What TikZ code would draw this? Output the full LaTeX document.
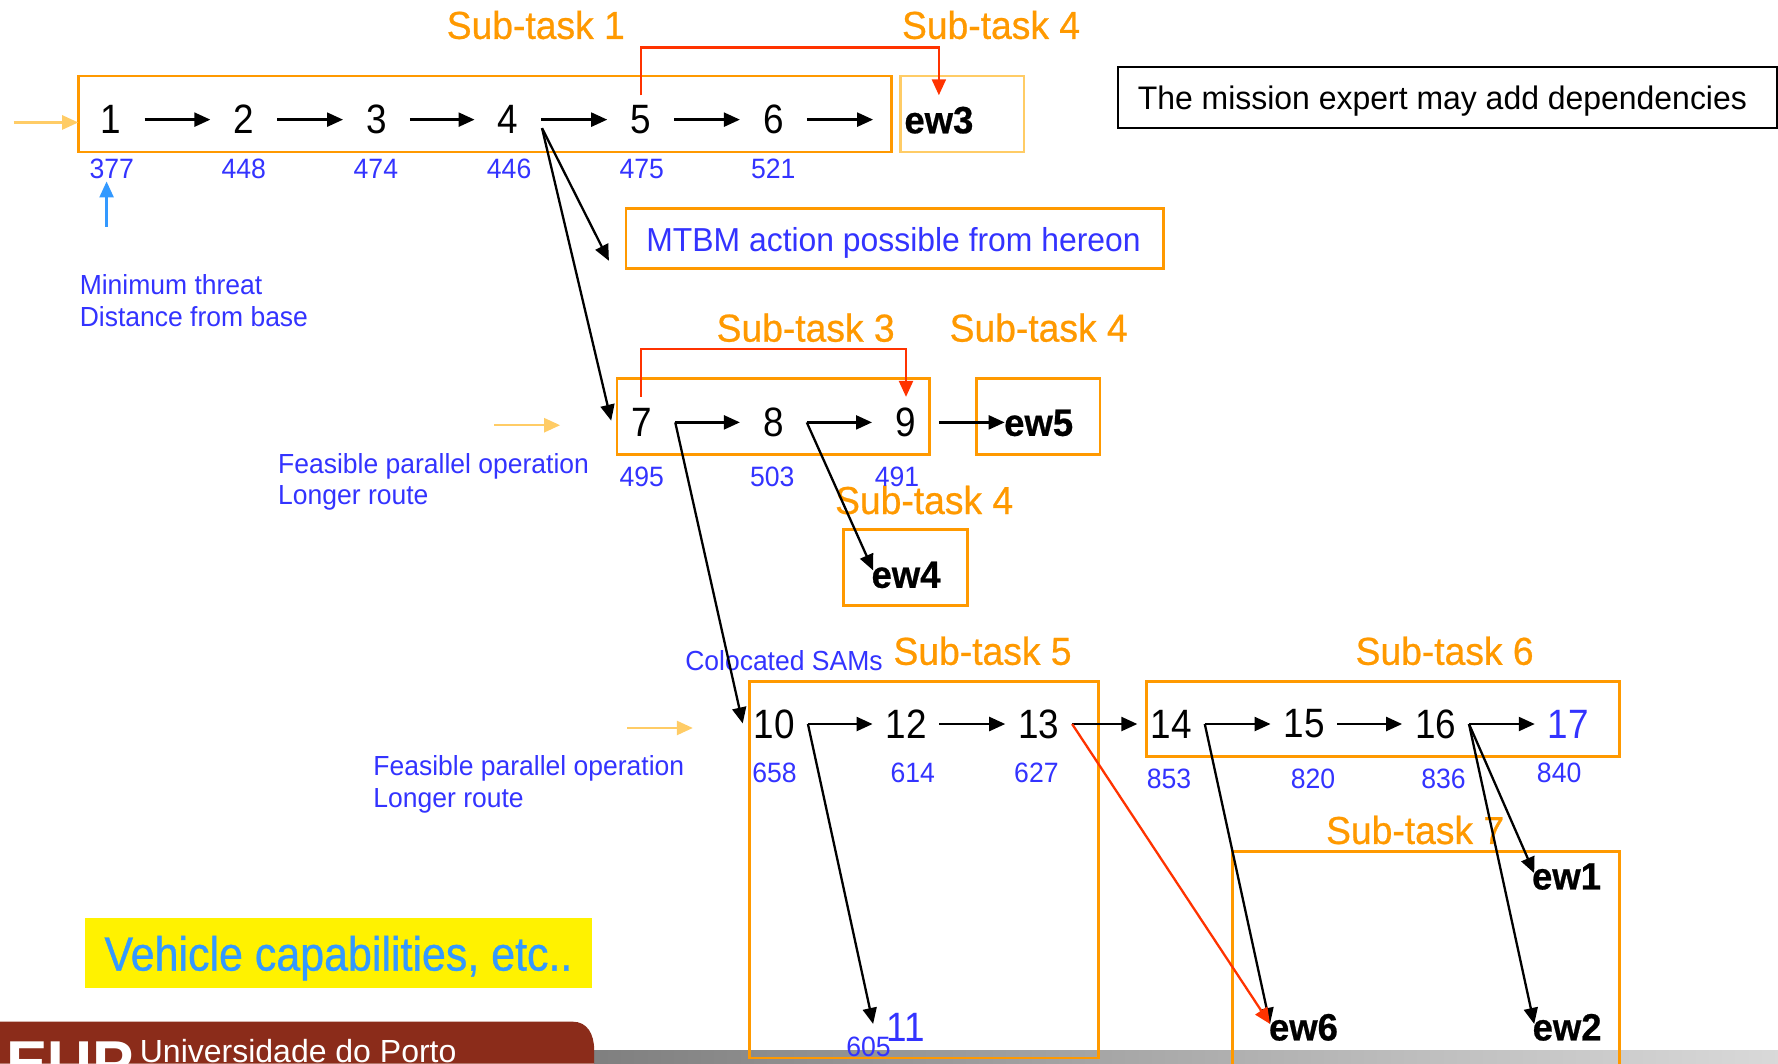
\documentclass[tikz,border=0pt]{standalone}
\usepackage{fontspec}
\usetikzlibrary{arrows.meta,shadings}
\setmainfont{Liberation Sans}
\newfontfamily\cond[FakeStretch=0.9]{Liberation Sans}
\newfontfamily\condv[FakeStretch=0.95]{Liberation Sans}
\newfontfamily\condn[FakeStretch=0.96]{Liberation Sans}
\newfontfamily\conds[FakeStretch=0.955,FakeBold=0.6]{Liberation Sans}
\newfontfamily\condh[FakeStretch=0.895,FakeBold=0.7]{Liberation Sans}
\newfontfamily\condw[FakeStretch=0.96,FakeBold=0.6]{Liberation Sans}
\newfontfamily\condm[FakeStretch=0.98]{Liberation Sans}
\definecolor{orng}{HTML}{FF9900}
\definecolor{lorng}{HTML}{FFCC66}
\definecolor{blu}{HTML}{3333FF}
\definecolor{sky}{HTML}{3399FF}
\definecolor{redl}{HTML}{FF3300}
\definecolor{brick}{HTML}{8B2C1A}
\tikzset{
  x=0.567pt,y=-0.567pt,
  >={Triangle[length=8pt,width=7pt]},
  bx/.style 2 args={minimum width=#1*0.567pt,minimum height=#2*0.567pt,inner sep=0,outer sep=0},
  obox/.style={draw=orng,line width=1.35pt},
  num/.style={font=\cond\fontsize{20.5}{24}\selectfont,minimum width=33.45pt,inner sep=0,outer sep=0,text=black},
  bnum/.style={num,text=blu},
  val/.style={font=\condv\fontsize{14}{16}\selectfont,text=blu,inner sep=0},
  note/.style={font=\condn\fontsize{13.8}{16}\selectfont,text=blu,inner sep=0,anchor=west},
  sub/.style={font=\conds\fontsize{19.5}{22}\selectfont,text=orng,inner sep=0},
  ew/.style={font=\condw\bfseries\fontsize{19}{22}\selectfont,text=black,inner sep=0},
  blk/.style={->,line width=1.15pt,black},
  redc/.style={line width=1.15pt,redl},
}
\begin{document}
\begin{tikzpicture}
\clip (0,0) rectangle (1568,938);
% footer
\shade[left color=black!50,right color=black!15] (524,926) rectangle (1568,938);
\fill[brick] (0,901) -- (505,901) .. controls (518,901) and (524,912) .. (524,926) -- (524,938) -- (0,938) -- cycle;
\node[font=\bfseries\fontsize{31}{31}\selectfont,text=white,inner sep=0,anchor=north west] (logo) at (5,918) {EUP};
\node[font=\fontsize{16}{18}\selectfont,text=white,inner sep=0,anchor=west] (univ) at (123,927) {Universidade do Porto};
\node[fill=yellow,bx={447}{61}] (veh) at (298.5,840.5) {};
\node[font=\condh\fontsize{24}{28}\selectfont,text=sky,inner sep=0] (vehT) at (298.5,845) {Vehicle capabilities, etc..};
% boxes
\node[obox,bx={717}{67}] (box1) at (427.5,100.5) {};
\node[draw=lorng,line width=1.35pt,bx={109}{67}] (box4a) at (848.5,100.5) {};
\node[draw=black,line width=1.1pt,bx={581}{54}] (mission) at (1276.5,86) {};
\node[obox,bx={474}{53}] (mtbm) at (789,210.5) {};
\node[obox,bx={276}{67}] (box3) at (682,367.5) {};
\node[obox,bx={109}{67}] (box4b) at (915.5,367.5) {};
\node[obox,bx={109}{67}] (box4c) at (798.5,500.5) {};
\node[obox,bx={308}{332}] (box5) at (815,767) {};
\node[obox,bx={417}{66}] (box6) at (1219.5,634) {};
\node[obox,bx={341}{230}] (box7) at (1257.5,866) {};
% texts
\node[font=\condm\fontsize{16.3}{19}\selectfont,inner sep=0] (missionT) at (1272,89) {The mission expert may add dependencies};
\node[font=\condn\fontsize{16.6}{19}\selectfont,text=blu,inner sep=0] (mtbmT) at (788,214) {MTBM action possible from hereon};
\node[sub] (s1) at (472.5,22) {Sub-task 1};
\node[sub] (s4a) at (874,22) {Sub-task 4};
\node[sub] (s3) at (710.5,289) {Sub-task 3};
\node[sub] (s4b) at (916,289) {Sub-task 4};
\node[sub] (s4c) at (815,441) {Sub-task 4};
\node[sub] (s5) at (866.5,574) {Sub-task 5};
\node[sub] (s6) at (1274,574) {Sub-task 6};
\node[sub] (s7) at (1248,732) {Sub-task 7};
% numbered tasks
\node[num] (n1) at (98,105.5) {1};
\node[num] (n2) at (215,105.5) {2};
\node[num] (n3) at (332,105.5) {3};
\node[num] (n4) at (448,105.5) {4};
\node[num] (n5) at (565,105.5) {5};
\node[num] (n6) at (682,105.5) {6};
\node[num] (n7) at (566,372.5) {7};
\node[num] (n8) at (682,372.5) {8};
\node[num] (n9) at (798.5,372.5) {9};
\node[num] (n10) at (683,638.5) {10};
\node[num] (n12) at (799,638.5) {12};
\node[num] (n13) at (916,638.5) {13};
\node[num] (n14) at (1033,638.5) {14};
\node[num] (n15) at (1150,638.5) {15};
\node[num] (n16) at (1266,638.5) {16};
\node[bnum] (n17) at (1383,638.5) {17};
\node[bnum] (n11) at (799,906) {11};
% ew
\node[ew] (ew3) at (828,106) {ew3};
\node[ew] (ew5) at (916,373) {ew5};
\node[ew] (ew4) at (799,507) {ew4};
\node[ew] (ew1) at (1381.5,773) {ew1};
\node[ew] (ew6) at (1149.5,906) {ew6};
\node[ew] (ew2) at (1382,906) {ew2};
% values
\node[val] (v1) at (98.5,149) {377};
\node[val] (v2) at (215,149) {448};
\node[val] (v3) at (331.5,149) {474};
\node[val] (v4) at (449,149) {446};
\node[val] (v5) at (566,149) {475};
\node[val] (v6) at (682,149) {521};
\node[val] (v7) at (566,420.5) {495};
\node[val] (v8) at (681,420.5) {503};
\node[val] (v9) at (791,420.5) {491};
\node[val] (v10) at (683,682) {658};
\node[val] (v12) at (805,682) {614};
\node[val] (v13) at (914,682) {627};
\node[val] (v14) at (1031,687) {853};
\node[val] (v15) at (1158,687) {820};
\node[val] (v16) at (1273,687) {836};
\node[val] (v17) at (1375,682) {840};
\node[val] (v11) at (766,923) {605};
% notes
\node[note] (m1) at (70,251) {Minimum threat};
\node[note] (m2) at (70,279) {Distance from base};
\node[note] (f1) at (245,411) {Feasible parallel operation};
\node[note] (f2) at (245,439) {Longer route};
\node[note] (f3) at (329,678) {Feasible parallel operation};
\node[note] (f4) at (329,706) {Longer route};
\node[note] (col) at (604,583) {Colocated SAMs};
% free ends
\coordinate (a0) at (12,108); \coordinate (a1) at (69,108);
\coordinate (b0) at (436,375); \coordinate (b1) at (494,375);
\coordinate (c0) at (553,642); \coordinate (c1) at (611,642);
\coordinate (u0) at (94,200); \coordinate (u1) at (94,160);
\coordinate (e3) at (770,105.5);
\coordinate (e5) at (886,372.5);
\coordinate (e14) at (1003,638.5);
\coordinate (p4a) at (478,113);
\coordinate (p4b) at (478,113);
\coordinate (tm) at (537,230);
\coordinate (t7) at (539,371);
\coordinate (t4) at (770,503);
\coordinate (t10) at (655,638);
\coordinate (t11) at (770,903);
\coordinate (te6) at (1120,903);
\coordinate (te1) at (1353,770);
\coordinate (te2) at (1353,903);
\coordinate (r5) at (565,84); \coordinate (r5u) at (565,42); \coordinate (r3u) at (828,42); \coordinate (r3) at (828,84);
\coordinate (r7) at (565,350); \coordinate (r7u) at (565,308); \coordinate (r9u) at (799,308); \coordinate (r9) at (799,350);
% connectors
\draw[lorng,line width=1.2pt,->] (a0) -- (a1);
\draw[lorng,line width=1.2pt,->] (b0) -- (b1);
\draw[lorng,line width=1.2pt,->] (c0) -- (c1);
\draw[sky,line width=1.2pt,->] (u0) -- (u1);
\draw[redc,->] (r5) -- (r5u) -- (r3u) -- (r3);
\draw[redc,->] (r7) -- (r7u) -- (r9u) -- (r9);
\foreach \a/\b in {n1/n2,n2/n3,n3/n4,n4/n5,n5/n6,n7/n8,n8/n9,n10/n12,n12/n13,n14/n15,n15/n16,n16/n17}
  \draw[blk] (\a.east) -- (\b.west);
\draw[blk] (n6.east) -- (e3);
\draw[blk] (n9.east) -- (e5);
\draw[blk] (n13.east) -- (e14);
\draw[blk] (p4a) -- (tm);
\draw[blk] (p4b) -- (t7);
\draw[blk] (n8.east) -- (t4);
\draw[blk] (n7.east) -- (t10);
\draw[blk] (n10.east) -- (t11);
\draw[blk] (n14.east) -- (te6);
\draw[blk] (n16.east) -- (te1);
\draw[blk] (n16.east) -- (te2);
\draw[redc,->] (n13.east) -- (te6);
\end{tikzpicture}
\end{document}
